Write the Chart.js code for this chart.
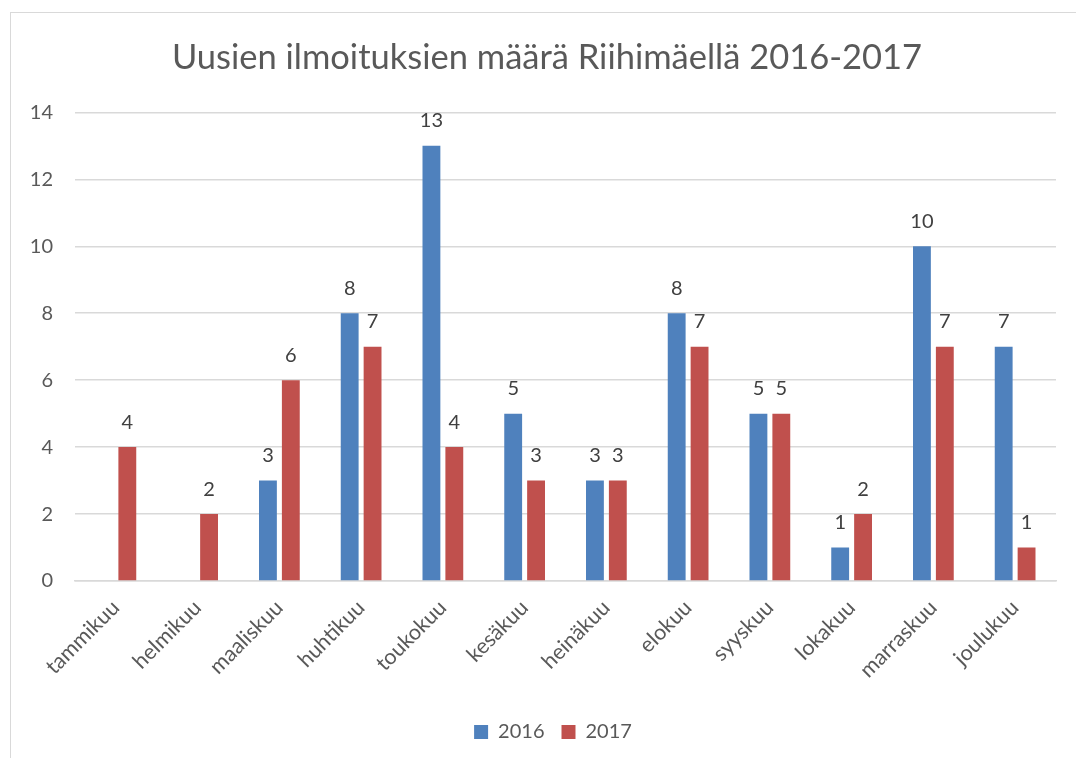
<!DOCTYPE html>
<html lang="fi">
<head>
    <meta charset="UTF-8">
    <title>Uusien ilmoituksien määrä Riihimäellä 2016-2017</title>
    <script src="https://cdn.jsdelivr.net/npm/chart.js"></script>
    <style>
        html, body { margin: 0; padding: 0; background: #fff; overflow: hidden; }
        .frame {
            position: absolute; left: 10px; top: 12px;
            width: 1100px; height: 800px;
            border: 1.5px solid #d9d9d9;
        }
        .wrap { position: absolute; left: 0; top: 0; width: 1076px; height: 758px; }
    </style>
</head>
<body>
    <div class="frame"></div>
    <div class="wrap">
        <canvas id="chart" width="1076" height="758"></canvas>
    </div>

<script>
    // kuukaudet ja arvot
    const kuukaudet = ['tammikuu', 'helmikuu', 'maaliskuu', 'huhtikuu', 'toukokuu', 'kesäkuu',
        'heinäkuu', 'elokuu', 'syyskuu', 'lokakuu', 'marraskuu', 'joulukuu'];
    const vuosi2016 = [null, null, 3, 8, 13, 5, 3, 8, 5, 1, 10, 7];
    const vuosi2017 = [4, 2, 6, 7, 4, 3, 3, 7, 5, 2, 7, 1];
    const yTicks = [0, 2, 4, 6, 8, 10, 12, 14];

    const fontti = 'Lato, "Liberation Sans", sans-serif';
    const harmaa = '#595959';

    // arvot pylväiden päälle
    const arvoTekstit = {
        id: 'arvoTekstit',
        afterDatasetsDraw(chart) {
            const c = chart.ctx;
            c.save();
            c.font = '20px ' + fontti;
            c.fillStyle = '#404040';
            c.textAlign = 'center';
            c.textBaseline = 'middle';
            chart.data.datasets.forEach((ds, i) => {
                chart.getDatasetMeta(i).data.forEach((bar, j) => {
                    if (ds.data[j] == null) return;
                    c.fillText(ds.data[j], bar.x, bar.y - 25);
                });
            });
            c.restore();
        }
    };

    // otsikko ja selite hieman oikealle, kuten alkuperäisessä
    const siirto = {
        id: 'siirto',
        afterLayout(chart) {
            if (chart.titleBlock) {
                chart.titleBlock.left += 19;
                chart.titleBlock.right += 19;
            }
            if (chart.legend) {
                chart.legend.left += 25;
                chart.legend.right += 25;
            }
        }
    };

    const ctx = document.getElementById('chart').getContext('2d');
    new Chart(ctx, {
        type: 'bar',
        data: {
            labels: kuukaudet,
            datasets: [
                {
                    label: '2016',
                    data: vuosi2016,
                    backgroundColor: '#4F81BD',
                    categoryPercentage: 0.56,
                    barPercentage: 0.78
                },
                {
                    label: '2017',
                    data: vuosi2017,
                    backgroundColor: '#C0504D',
                    categoryPercentage: 0.56,
                    barPercentage: 0.78
                }
            ]
        },
        options: {
            responsive: false,
            animation: false,
            layout: { padding: { left: 0, right: 20, top: 0, bottom: 6 } },
            scales: {
                x: {
                    grid: { display: false, drawTicks: false },
                    border: { color: '#d9d9d9', width: 1.5 },
                    ticks: {
                        color: harmaa,
                        font: { family: fontti, size: 21.5 },
                        minRotation: 45,
                        maxRotation: 45,
                        padding: 14
                    },
                    afterFit(scale) { scale.height = 124; }
                },
                y: {
                    min: 0,
                    max: 14,
                    afterBuildTicks(scale) { scale.ticks = yTicks.map(v => ({ value: v })); },
                    grid: { color: '#d9d9d9', lineWidth: 1.5, drawTicks: false },
                    border: { display: false },
                    ticks: {
                        color: harmaa,
                        font: { family: fontti, size: 20 },
                        padding: 22
                    },
                    afterFit(scale) { scale.width = 75; }
                }
            },
            plugins: {
                title: {
                    display: true,
                    text: 'Uusien ilmoituksien määrä Riihimäellä 2016-2017',
                    color: harmaa,
                    font: { family: fontti, size: 34.5, weight: 'normal' },
                    padding: { top: 37, bottom: 34 }
                },
                legend: {
                    position: 'bottom',
                    labels: {
                        color: harmaa,
                        font: { family: fontti, size: 20 },
                        boxWidth: 14,
                        boxHeight: 14,
                        padding: 17
                    }
                },
                tooltip: { enabled: false }
            }
        },
        plugins: [arvoTekstit, siirto]
    });
</script>
</body>
</html>
